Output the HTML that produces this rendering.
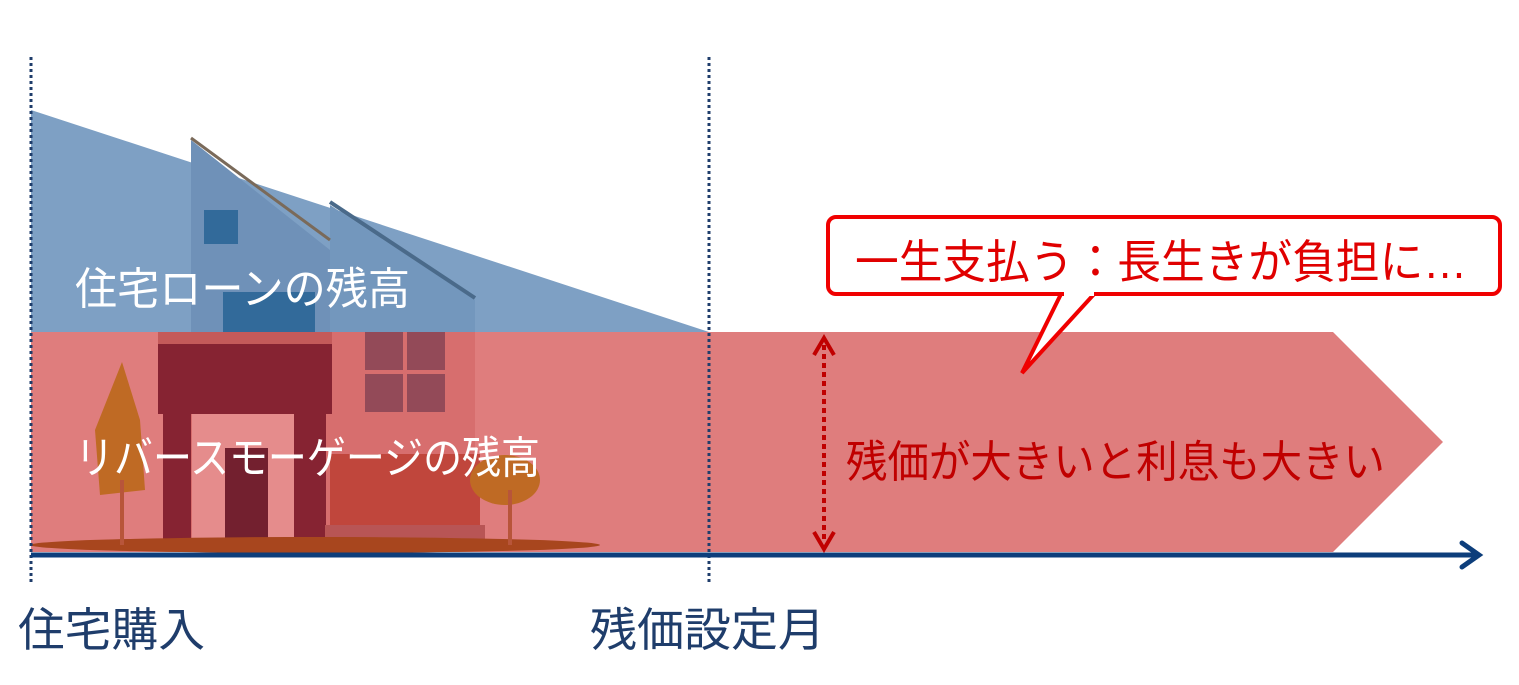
<!DOCTYPE html>
<html><head><meta charset="utf-8"><style>
html,body{margin:0;padding:0;background:#fff;}
svg{display:block;font-family:"Liberation Sans","Noto Sans CJK JP",sans-serif;}
</style></head><body>
<svg width="1519" height="685" viewBox="0 0 1519 685" xmlns="http://www.w3.org/2000/svg">
<polygon points="31,110 709,332 31,332" fill="#7ea0c4"/>
<polygon points="191,140 330,250 330,332 191,332" fill="#6f91b8"/>
<polygon points="330,205 475,300 475,332 330,332" fill="#7397bd"/>
<line x1="191" y1="138" x2="330" y2="240" stroke="#7a6a5a" stroke-width="3"/>
<line x1="330" y1="202" x2="475" y2="298" stroke="#4a6a8a" stroke-width="4"/>
<rect x="204" y="210" width="34" height="34" fill="#326a9a"/>
<rect x="223" y="292" width="92" height="40" fill="#326a9a"/>
<polygon points="31,332 1333,332 1443,442 1333,552 31,552" fill="#df7d7d"/>
<rect x="191" y="332" width="284" height="215" fill="#d76e6e"/>
<rect x="158" y="332" width="174" height="12" fill="#c45a5a"/>
<rect x="158" y="344" width="174" height="70" fill="#862332"/>
<rect x="163" y="414" width="28" height="130" fill="#862332"/>
<rect x="192" y="414" width="102" height="130" fill="#e58c8c"/>
<rect x="294" y="414" width="32" height="130" fill="#862332"/>
<rect x="225" y="448" width="43" height="96" fill="#73202f"/>
<rect x="330" y="454" width="150" height="72" fill="#c0463c"/>
<rect x="325" y="525" width="160" height="20" fill="#b85555"/>
<rect x="365" y="332" width="80" height="80" fill="#934a58"/>
<line x1="405" y1="332" x2="405" y2="412" stroke="#d76e6e" stroke-width="4"/>
<line x1="365" y1="372" x2="445" y2="372" stroke="#d76e6e" stroke-width="4"/>
<ellipse cx="315" cy="545" rx="285" ry="8" fill="#a8461e"/>
<polygon points="122,362 140,420 145,490 100,495 95,430" fill="#bf6a24"/>
<line x1="122" y1="480" x2="122" y2="545" stroke="#b8553a" stroke-width="4"/>
<ellipse cx="505" cy="480" rx="35" ry="25" fill="#bf6a24"/>
<line x1="510" y1="490" x2="510" y2="545" stroke="#b8553a" stroke-width="4"/>
<line x1="31" y1="57" x2="31" y2="582" stroke="#1f3d6b" stroke-width="3" stroke-dasharray="3,3"/>
<line x1="709" y1="57" x2="709" y2="582" stroke="#1f3d6b" stroke-width="3" stroke-dasharray="3,3"/>
<line x1="31" y1="555" x2="1478" y2="555" stroke="#0d3e7b" stroke-width="5"/>
<polyline points="1462,543 1479,555 1462,567" fill="none" stroke="#0d3e7b" stroke-width="5" stroke-linecap="round"/>
<line x1="824" y1="345" x2="824" y2="542" stroke="#c00000" stroke-width="4" stroke-dasharray="5,4"/>
<polyline points="814,355 824,338 834,355" fill="none" stroke="#c00000" stroke-width="4"/>
<polyline points="814,532 824,549 834,532" fill="none" stroke="#c00000" stroke-width="4"/>
<polygon points="1062,292 1096,292 1022,373" fill="#fff" stroke="#f00000" stroke-width="4"/>
<rect x="828" y="217" width="672" height="77" rx="8" fill="#fff" stroke="#f00000" stroke-width="4"/>
<rect x="1064" y="288" width="30" height="8" fill="#fff"/>
<text x="855" y="278" font-size="46" fill="#e00000" textLength="612" lengthAdjust="spacingAndGlyphs">一生支払う：長生きが負担に…</text>
<text x="75" y="304" font-size="44" fill="#fff" textLength="335" lengthAdjust="spacingAndGlyphs">住宅ローンの残高</text>
<text x="75" y="473" font-size="44" fill="#fff" textLength="465" lengthAdjust="spacingAndGlyphs">リバースモーゲージの残高</text>
<text x="846" y="477" font-size="44" fill="#c00000" textLength="539" lengthAdjust="spacingAndGlyphs">残価が大きいと利息も大きい</text>
<text x="18" y="646" font-size="46" fill="#1f3d6b" textLength="187" lengthAdjust="spacingAndGlyphs">住宅購入</text>
<text x="590" y="646" font-size="46" fill="#1f3d6b" textLength="235" lengthAdjust="spacingAndGlyphs">残価設定月</text>
</svg>
</body></html>
